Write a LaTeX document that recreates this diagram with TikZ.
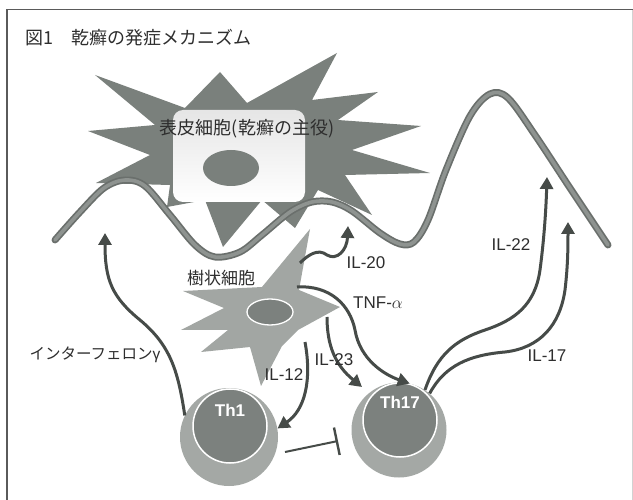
\documentclass[tikz,border=0pt]{standalone}
\usepackage{fontspec}
\setmainfont{Liberation Sans}
\newfontfamily\jpfont{Noto Sans CJK JP}
\usetikzlibrary{arrows.meta,shapes.geometric}
\definecolor{starcol}{HTML}{7A807C}
\definecolor{skinedge}{HTML}{6A6F6C}
\definecolor{skinfill}{HTML}{8E9390}
\definecolor{dccol}{HTML}{A2A6A3}
\definecolor{cellout}{HTML}{A4A8A5}
\definecolor{cellin}{HTML}{7C817E}
\definecolor{arrowcol}{HTML}{464B48}
\definecolor{txt}{HTML}{2E2E2E}
\definecolor{framecol}{HTML}{5A5A5A}

\begin{document}
\begin{tikzpicture}[x=1pt,y=-1pt,
  signal/.style={draw=arrowcol, line width=3pt, -{Triangle[length=12pt,width=13pt]}},
  blocker/.style={draw=arrowcol, line width=2pt, -{Bar[width=28pt,line width=2.4pt]}},
  lbl/.style={text=txt, font=\fontsize{17}{19}\selectfont, inner sep=0pt},
  jplbl/.style={text=txt, font=\jpfont\fontsize{17}{19}\selectfont, inner sep=0pt},
  cellname/.style={text=white, font=\bfseries\fontsize{17}{19}\selectfont, inner sep=0pt},
  skin/.style={line cap=round, line join=round},
]
\useasboundingbox (0,0) rectangle (633,500);
\fill[white] (0,0) rectangle (633,500);

% page frame (open at the bottom)
\draw[framecol, line width=1.8pt] (7,502) -- (7,9.5) -- (635,9.5);
\draw[gray!35, line width=0.6pt] (632,10) -- (632,502);

% title
\node[anchor=west, text=txt, font=\jpfont\fontsize{18}{20}\selectfont, inner sep=0pt]
  (title) at (25,38) {図1　乾癬の発症メカニズム};

% keratinocyte (spiky star)
\fill[starcol] (95,75) -- (185,108) -- (220,72) -- (247,103) -- (337,53)
  -- (312,100) -- (378,92) -- (338,120) -- (421,126) -- (352,150)
  -- (430,173) -- (345,175) -- (372,215) -- (318,190) -- (295,228)
  -- (262,200) -- (223,247) -- (205,200) -- (167,207) -- (170,185)
  -- (96,183) -- (150,155) -- (88,131) -- (155,125) -- cycle;

% skin surface line
\draw[skin, skinedge, line width=7pt] plot[smooth, tension=0.55] coordinates {
  (55,240) (80,212) (104,188) (125,180) (145,186) (170,215) (195,245)
  (215,257) (240,252) (262,235) (290,212) (312,202) (332,202) (352,211)
  (380,233) (400,244) (414,242) (428,220) (446,170) (470,116) (490,94)
  (508,98) (535,135) (570,188) (608,245)};
\draw[skin, skinfill, line width=3.6pt] plot[smooth, tension=0.55] coordinates {
  (55,240) (80,212) (104,188) (125,180) (145,186) (170,215) (195,245)
  (215,257) (240,252) (262,235) (290,212) (312,202) (332,202) (352,211)
  (380,233) (400,244) (414,242) (428,220) (446,170) (470,116) (490,94)
  (508,98) (535,135) (570,188) (608,245)};

% keratinocyte body and nucleus
\node[rounded corners=10pt, minimum width=132pt, minimum height=92pt, inner sep=0pt,
  top color=black!10, bottom color=white] (kbox) at (239,156) {};
\node[ellipse, fill=starcol, minimum width=56pt, minimum height=36pt, inner sep=0pt]
  (knuc) at (231,168) {};
\node[jplbl, font=\jpfont\fontsize{18}{20}\selectfont] (klabel) at (247,129) {表皮細胞(乾癬の主役)};

% dendritic cell
\fill[dccol] (310,229) -- (299,290) -- (340,307) -- (298,330) -- (282,346)
  -- (261,386) -- (250,347) -- (201,352) -- (228,330) -- (181,330)
  -- (224,308) -- (183,291) -- (262,287) -- cycle;
\node[ellipse, fill=cellin, draw=white, line width=1.3pt, minimum width=46pt,
  minimum height=26pt, inner sep=0pt] (dcnuc) at (270,312) {};
\node[jplbl] (dclabel) at (221,278) {樹状細胞};

% T cells
\node[circle, fill=cellout, minimum size=98pt, inner sep=0pt] (th1) at (229,437) {};
\node[circle, fill=cellin, draw=white, line width=1.5pt, minimum size=74pt, inner sep=0pt]
  (th1in) at (230,426) {};
\node[cellname] (th1lbl) at (230,410) {Th1};
\node[circle, fill=cellout, minimum size=95pt, inner sep=0pt] (th17) at (399,430) {};
\node[circle, fill=cellin, draw=white, line width=1.5pt, minimum size=74pt, inner sep=0pt]
  (th17in) at (400,420) {};
\node[cellname] (th17lbl) at (400,402) {Th17};

% signal end points
\coordinate (ifnTip) at (105,233);
\coordinate (il20s) at (300,263);
\coordinate (il20Tip) at (348,226);
\coordinate (tnfs) at (297,287);
\coordinate (il23s) at (327,317);
\coordinate (il23Tip) at (362,387);
\coordinate (il12s) at (305,342);
\coordinate (il22Tip) at (547,177);
\coordinate (il17Tip) at (568,222);
\coordinate (inhS) at (285,452);
\coordinate (inhE) at (338,441);

% signals
\draw[signal] (th1.154) .. controls (178,370) and (170,345) .. (140,320)
  .. controls (112,297) and (105,280) .. (ifnTip);
\draw[signal] (il20s) .. controls (308,255) and (318,248) .. (327,255)
  .. controls (337,261) and (347,250) .. (il20Tip);
\draw[signal] (tnfs) .. controls (330,285) and (350,305) .. (355,330)
  .. controls (360,360) and (385,375) .. (th17.77);
\draw[signal] (il23s) .. controls (327,345) and (335,365) .. (il23Tip);
\draw[signal] (il12s) .. controls (312,380) and (305,410) .. (th1.10);
\draw[signal] (th17.57) .. controls (437,355) and (455,340) .. (485,330)
  .. controls (515,320) and (535,305) .. (540,270)
  .. controls (544,240) and (546,210) .. (il22Tip);
\draw[signal] (th17.50) .. controls (445,365) and (470,355) .. (505,352)
  .. controls (540,348) and (560,325) .. (565,290)
  .. controls (568,265) and (568,245) .. (il17Tip);
\draw[blocker] (inhS) -- (inhE);

% labels
\node[jplbl, font=\fontsize{15.5}{17}\selectfont] (ifnlbl) at (95,355) {{\jpfont インターフェロン}γ};
\node[lbl] (il20lbl) at (366,263) {IL-20};
\node[lbl] (tnflbl) at (378,303) {TNF-$\alpha$};
\node[lbl] (il23lbl) at (334,360) {IL-23};
\node[lbl] (il12lbl) at (284,375) {IL-12};
\node[lbl] (il22lbl) at (511,245) {IL-22};
\node[lbl] (il17lbl) at (547,356) {IL-17};
\end{tikzpicture}
\end{document}
